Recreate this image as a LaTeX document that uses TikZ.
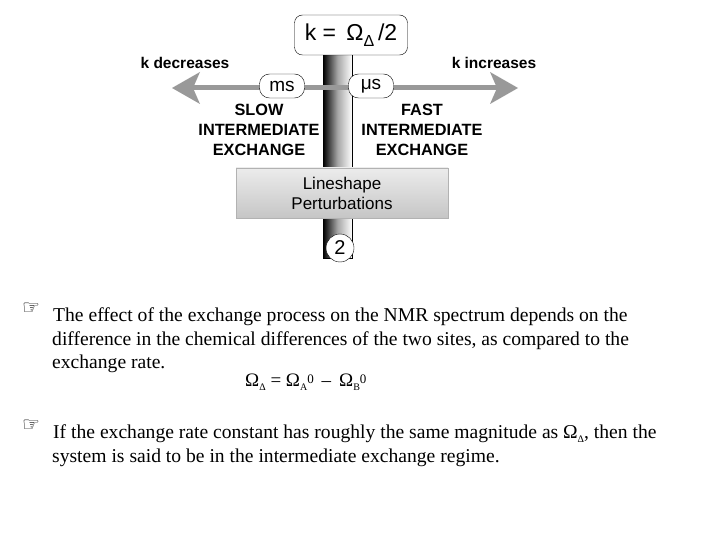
\documentclass[tikz,border=0pt]{standalone}
\usepackage{fontspec}
\setmainfont{Liberation Serif}
\newfontfamily\arial{Liberation Sans}
\newfontfamily\dejavu{DejaVu Sans}
\begin{document}
\begin{tikzpicture}[x=1pt,y=-1pt,
  lbl/.style={font=\arial\bfseries\fontsize{15.5}{18}\selectfont, align=center, inner sep=0pt},
  oval/.style={draw, rounded corners=10pt, fill=white, minimum width=45pt, minimum height=24pt, font=\arial\fontsize{19}{21}\selectfont, inner sep=0pt},
  body/.style={font=\fontsize{19.6}{24}\selectfont, anchor=base west, inner sep=0pt},
  hand/.style={font=\dejavu\fontsize{20}{22}\selectfont, anchor=base west, inner sep=0pt}]
\useasboundingbox (0,0) rectangle (720,540);
% vertical bar
\shade[left color=black, right color=white, middle color=gray!70] (323,50) rectangle (352,258);
\draw (323,50) rectangle (352,258);
% lineshape box
\node[draw=gray!60, top color=gray!15, bottom color=gray!45, minimum width=212pt, minimum height=50pt, inner sep=0pt,
  font=\arial\fontsize{17}{20}\selectfont, align=center] (ls) at (342,193) {Lineshape\\Perturbations};
% arrow
\draw[gray!80, line width=5pt] (185,88) -- (505,88);
\fill[gray!80] (172,88) -- (200,72) -- (193,88) -- (200,104) -- cycle;
\fill[gray!80] (518,88) -- (490,72) -- (497,88) -- (490,104) -- cycle;
\node[oval] (ms) at (282,86) {ms};
\node[oval] (us) at (371,86) {μs};
% top box
\node[draw, rounded corners=8pt, fill=white, minimum width=113pt, minimum height=40pt, inner sep=0pt,
  font=\arial\fontsize{23}{25}\selectfont] (k) at (351,35) {k = \,Ω\raisebox{-6pt}{\fontsize{16}{16}\selectfont Δ}\,/2};
\node[lbl] (kd) at (185,63) {k decreases};
\node[lbl] (ki) at (494,63) {k increases};
\node[lbl, font=\arial\bfseries\fontsize{16.3}{20}\selectfont] (slow) at (259,130) {SLOW\\INTERMEDIATE\\EXCHANGE};
\node[lbl, font=\arial\bfseries\fontsize{16.3}{20}\selectfont] (fast) at (422,130) {FAST\\INTERMEDIATE\\EXCHANGE};
\node[draw, circle, fill=white, minimum size=28pt, inner sep=0pt, font=\arial\fontsize{20}{22}\selectfont] (two) at (340,248) {2};
% text
\node[hand] (h1) at (22,314) {☞};
\node[body] (t1) at (53,321) {The effect of the exchange process on the NMR spectrum depends on the};
\node[body] (t2) at (52,345) {difference in the chemical differences of the two sites, as compared to the};
\node[body] (t3) at (52,368) {exchange rate.};
\node[body, font=\fontsize{19}{20}\selectfont] (eq) at (245,386) {Ω\raisebox{-4pt}{\fontsize{10}{10}\selectfont Δ} = Ω\raisebox{-4pt}{\fontsize{10}{10}\selectfont A}\raisebox{3pt}{\fontsize{13}{13}\selectfont 0} \,–\, Ω\raisebox{-4pt}{\fontsize{10}{10}\selectfont B}\raisebox{3pt}{\fontsize{13}{13}\selectfont 0}};
\node[hand] (h2) at (22,431) {☞};
\node[body] (t4) at (53,438) {If the exchange rate constant has roughly the same magnitude as Ω\raisebox{-4pt}{\fontsize{10}{10}\selectfont Δ}, then the};
\node[body] (t5) at (52,462) {system is said to be in the intermediate exchange regime.};
\end{tikzpicture}
\end{document}
